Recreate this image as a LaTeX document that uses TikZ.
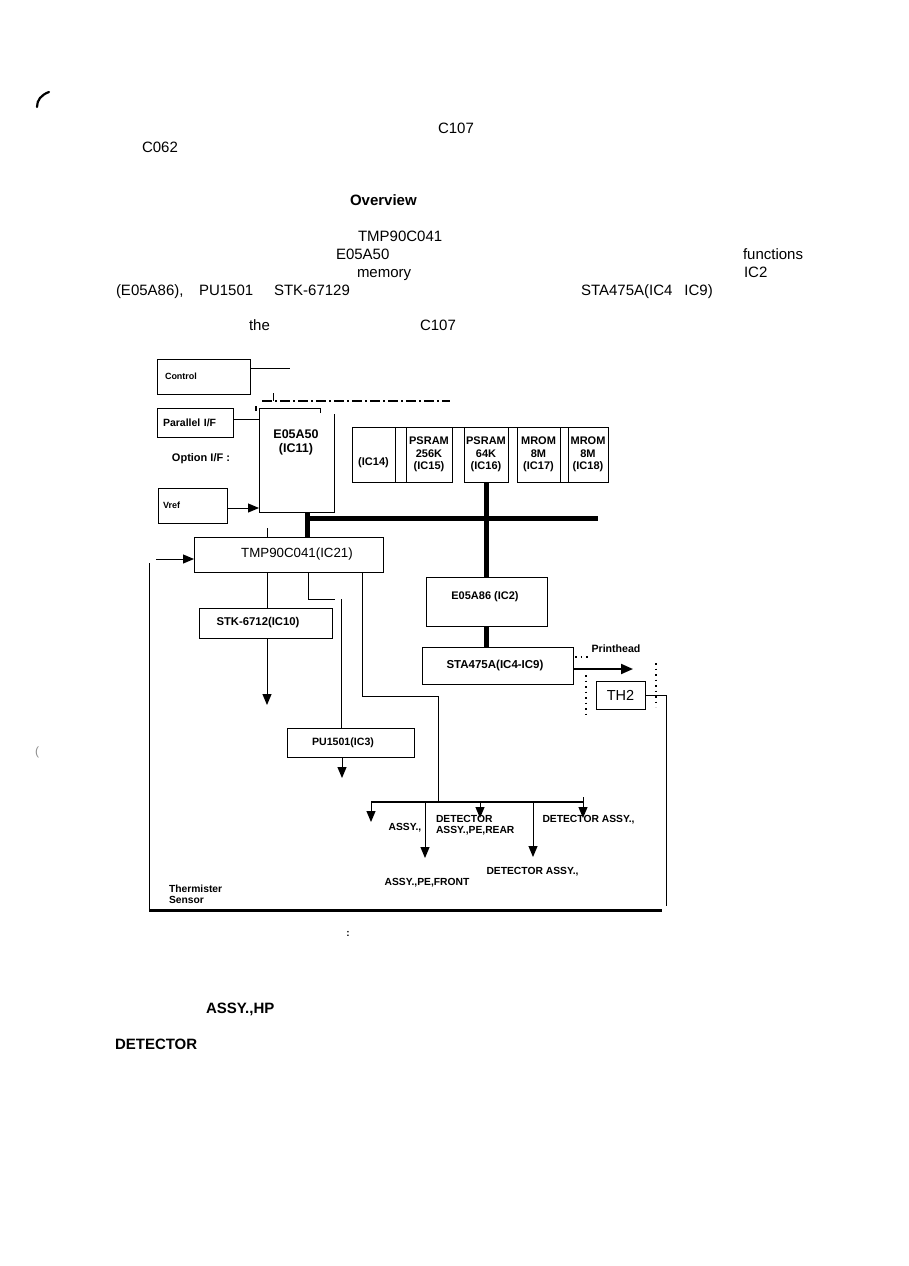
\documentclass[tikz,border=0pt]{standalone}
\usepackage{fontspec}
\setmainfont{Liberation Sans}
\usetikzlibrary{arrows.meta,calc}
\newcommand{\fsz}[2]{\fontsize{#1pt}{#2pt}\selectfont}
\begin{document}
\begin{tikzpicture}[x=1pt,y=-1pt,
 every node/.style={inner sep=0pt,outer sep=0pt},
 box/.style={draw,line width=1pt},
 ln/.style={line width=1pt},
 bus/.style={line width=5pt},
 arr/.style={line width=1pt,-{Triangle[length=11pt,width=9pt]}},
 bt/.style={font=\fsz{15}{18},anchor=base west},
 bbt/.style={font=\bfseries\fsz{15}{18},anchor=base west},
 sm/.style={font=\bfseries\fsz{10.3}{10.8}},
 lbl/.style={font=\bfseries\fsz{11}{12.5},align=center},
 dots/.style={line width=1.3pt,dash pattern=on 1.5pt off 4pt}]
\fill[white] (0,0) rectangle (909,1266);
\useasboundingbox (0,0) rectangle (909,1266);

% corner mark
\draw[line width=2.2pt,line cap=round] (49,92) .. controls (41,95) and (37,100) .. (37,107);

% text fragments
\node[bt] (c107a) at (438,133) {C107};
\node[bt] (c062) at (142,152) {C062};
\node[bbt] (ovw) at (350,205) {Overview};
\node[bt] (tmpx) at (358,241) {TMP90C041};
\node[bt] (e50x) at (336,259) {E05A50};
\node[bt] (func) at (743,259) {functions};
\node[bt] (memx) at (357,277) {memory};
\node[bt] (ic2x) at (744,277) {IC2};
\node[bt] (e86x) at (116,295) {(E05A86),};
\node[bt] (pux) at (199,295) {PU1501};
\node[bt] (stkx) at (274,295) {STK-67129};
\node[bt] (stax) at (581,295) {STA475A(IC4\hspace{12pt}IC9)};
\node[bt] (thex) at (249,330) {the};
\node[bt] (c107b) at (420,330) {C107};

% Control
\node[box,minimum width=93pt,minimum height=35pt,text width=77pt,align=left,font=\bfseries\fsz{9}{11}] (ctrl) at (203.5,376.5) {Control};
\coordinate (cend) at (290,368);
\draw[ln] ($(ctrl.north east)+(0,9)$) -- (cend);

% dash-dot line
\coordinate (dda) at (262,401);
\coordinate (ddb) at (450,401);
\draw[line width=1.6pt,dash pattern=on 10pt off 3pt on 2pt off 3pt] (dda) -- (ddb);
\coordinate (tk) at (273,393);
\draw[ln] (tk) -- (tk |- dda);

% Parallel I/F
\node[box,minimum width=76pt,minimum height=29pt,text width=64pt,align=left,font=\bfseries\fsz{10.5}{12}] (par) at (195,422.5) {Parallel I/F};

% E05A50
\node[minimum width=75pt,minimum height=104pt] (e50) at (296.5,460) {};
\draw[ln] (320,413) -- (320,408) -- (e50.north west) -- (e50.south west) -- (e50.south east) -- (334,414);
\node[font=\bfseries\fsz{12.5}{14},align=center] (e50t) at (296,442) {E05A50\\(IC11)};
\draw[line width=1.5pt] (256,406) -- (256,411);

\coordinate (pa) at ($(par.east)+(0,-3)$);
\draw[ln] (pa) -- (pa -| e50.west);

\node[font=\bfseries\fsz{11}{12}] (opt) at (201,459) {Option I/F :};

% Vref
\node[box,minimum width=69pt,minimum height=35pt,text width=59pt,align=left,font=\bfseries\fsz{9}{11}] (vref) at (192.5,505.5) {Vref};
\coordinate (va) at ($(vref.east)+(0,2.5)$);
\draw[arr] (va) -- (va -| e50.west);

% memories
\node[box,minimum width=43pt,minimum height=55pt,lbl] (ic14) at (373.5,454.5) {\mbox{}\\\mbox{}\\(IC14)};
\node[box,minimum width=46pt,minimum height=55pt,lbl] (ic15) at (429,454.5) {PSRAM\\256K\\(IC15)};
\node[box,minimum width=44pt,minimum height=55pt,lbl] (ic16) at (486,454.5) {PSRAM\\64K\\(IC16)};
\node[box,minimum width=43pt,minimum height=55pt,lbl] (ic17) at (538.5,454.5) {MROM\\8M\\(IC17)};
\node[box,minimum width=40pt,minimum height=55pt,lbl] (ic18) at (588,454.5) {MROM\\8M\\(IC18)};
\draw[ln] (ic14.north west) -- (ic18.north east);
\draw[ln] (ic14.south west) -- (ic15.south east);
\draw[ln] (ic17.south west) -- (ic18.south east);

% TMP90C041
\node[box,minimum width=189pt,minimum height=35pt,label={[font=\fsz{13.3}{15},xshift=8.5pt]center:TMP90C041(IC21)}] (tmp) at (288.5,554.5) {};

% bus
\coordinate (bx) at (307,518);
\coordinate (bend) at (598,518);
\draw[bus] (bx |- e50.south) -- (bx |- tmp.north);
\draw[bus] (bx) -- (bend);

\coordinate (tl) at (267,528);
\draw[ln] (tl) -- (tl |- tmp.north);

% feedback loop
\coordinate (fa) at (156,559);
\draw[arr] (fa) -- (fa -| tmp.west);
\coordinate (lv1) at (149,563);
\coordinate (lv2) at (149,912);
\draw[ln] (lv1) -- (lv2);
\coordinate (bl1) at (150,910);
\coordinate (bl2) at (662,910);
\draw[line width=3pt] (bl1) -- (bl2);

% STK
\node[box,minimum width=133pt,minimum height=30pt,label={[font=\bfseries\fsz{11.3}{13},xshift=-7.5pt]center:STK-6712(IC10)}] (stk) at (265.5,623) {};
\draw[ln] (tmp.south -| tl) -- (stk.north -| tl);
\coordinate (stkend) at (267,705);
\draw[arr] (stk.south -| tl) -- (stkend);

% PU1501
\coordinate (k1) at (308,599);
\coordinate (k2) at (335,599);
\coordinate (k3) at (341,599);
\draw[ln] (tmp.south -| k1) -- (k1) -- (k2);
\node[box,minimum width=127pt,minimum height=29pt,label={[font=\bfseries\fsz{10.6}{12},xshift=-7.5pt]center:PU1501(IC3)}] (pu) at (350.5,742.5) {};
\draw[ln] (k3) -- (k3 |- pu.north);
\coordinate (puend) at (342,778);
\draw[arr] (pu.south -| puend) -- (puend);

% sensors
\coordinate (k4) at (362,696);
\coordinate (s1) at (438,696);
\coordinate (sb) at (438,802);
\draw[ln] (tmp.south -| k4) -- (k4) -- (s1) -- (sb);
\coordinate (sbl) at (371,802);
\coordinate (sbr) at (583,802);
\draw[line width=2.5pt] (sbl) -- (sbr);
\draw[ln] (sbr) -- (583,797);
\coordinate (a1) at (371,822);
\coordinate (a2) at (425,858);
\coordinate (a3) at (480,818);
\coordinate (a4) at (533,857);
\coordinate (a5) at (583,818);
\foreach \a in {a1,a2,a3,a4,a5} \draw[arr] (\a |- sbl) -- (\a);

\node[sm] (lb1) at (405,828) {ASSY.,};
\node[sm,align=left,anchor=west] (lb2) at (436,825.5) {DETECTOR\\ASSY.,PE,REAR};
\node[sm] (lb3) at (588.5,820) {DETECTOR ASSY.,};
\node[sm] (lb4) at (532.5,872) {DETECTOR ASSY.,};
\node[sm] (lb5) at (427,883) {ASSY.,PE,FRONT};
\node[sm,align=left,anchor=west,font=\bfseries\fsz{10.3}{11.5}] (lb6) at (169,894.5) {Thermister\\Sensor};

% E05A86
\node[box,minimum width=121pt,minimum height=49pt,label={[font=\bfseries\fsz{11}{13},xshift=-1.5pt,yshift=4.5pt]center:E05A86 (IC2)}] (e86) at (486.5,601.5) {};
\draw[bus] (ic16.south) -- (ic16.south |- e86.north);

% STA475A
\node[box,minimum width=151pt,minimum height=37pt,label={[font=\bfseries\fsz{11.5}{13},xshift=-2.5pt]center:STA475A(IC4-IC9)}] (sta) at (497.5,665.5) {};
\draw[bus] (ic16.south |- e86.south) -- (ic16.south |- sta.north);

\coordinate (pha) at ($(sta.east)+(0,3.5)$);
\coordinate (phb) at (633,669);
\draw[line width=2pt,-{Triangle[length=12pt,width=10pt]}] (pha) -- (phb);
\node[font=\bfseries\fsz{10.6}{12}] (ph) at (616,649) {Printhead};
\draw[dots] (575,657) -- (588,657);
\draw[dots] (586,675) -- (586,717);
\draw[dots] (656,663) -- (656,707);

% TH2
\node[box,minimum width=49pt,minimum height=28pt,font=\fsz{14.5}{16}] (th2) at (620.5,695) {TH2};
\coordinate (rv) at (666,695);
\coordinate (rve) at (666,906);
\draw[ln] (th2.east) -- (rv) -- (rve);

% lower text
\node[font=\bfseries\fsz{10}{12}] (colon) at (348,934) {:};
\node[bbt] (hp) at (206,1013) {ASSY.,HP};
\node[bbt] (det) at (115,1049) {DETECTOR};
\node[font=\fsz{12}{14},text=black!45] (paren) at (37,752) {(};
\end{tikzpicture}
\end{document}
